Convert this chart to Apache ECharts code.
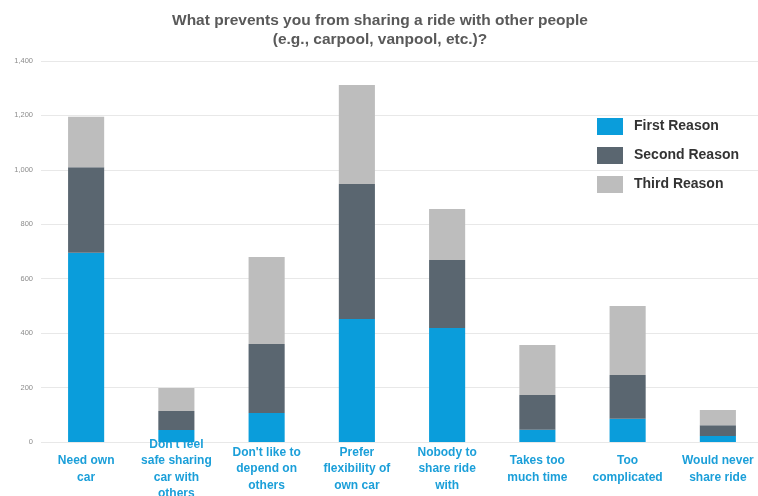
<!DOCTYPE html>
<html>
<head>
<meta charset="utf-8">
<script src="https://cdn.jsdelivr.net/npm/echarts@6/dist/echarts.min.js"></script>
<style>
html,body{margin:0;padding:0;background:#fff;}
#chart{width:758px;height:496px;}
</style>
</head>
<body>
<div id="chart"></div>
<script>
const categories = [
  "Need own\ncar",
  "Don't feel\nsafe sharing\ncar with\nothers",
  "Don't like to\ndepend on\nothers",
  "Prefer\nflexibility of\nown car",
  "Nobody to\nshare ride\nwith",
  "Takes too\nmuch time",
  "Too\ncomplicated",
  "Would never\nshare ride"
];
const seriesNames = ["First Reason", "Second Reason", "Third Reason"];
const firstReason = [695, 44, 107, 452, 419, 45, 85, 22];
const secondReason = [315, 70, 253, 496, 250, 128, 161, 40];
const thirdReason = [185, 84, 320, 364, 187, 183, 254, 56];
const yTicks = [0, 200, 400, 600, 800, 1000, 1200, 1400];

const colors = ["#0a9ddb", "#5a6670", "#bdbdbd"];
const chart = echarts.init(document.getElementById('chart'));
const fmt = v => v.toLocaleString('en-US');
const values = [firstReason, secondReason, thirdReason];

chart.setOption({
  animation: false,
  title: {
    text: "What prevents you from sharing a ride with other people\n(e.g., carpool, vanpool, etc.)?",
    left: 375, top: 6, textAlign: 'center',
    textStyle: { fontFamily: 'Liberation Sans', fontWeight: 'bold', fontSize: 15.5, color: '#595959', lineHeight: 19 }
  },
  legend: {
    orient: 'vertical', left: 592, top: 113,
    itemWidth: 26, itemHeight: 17, itemGap: 12,
    data: seriesNames,
    textStyle: { fontFamily: 'Liberation Sans', fontWeight: 'bold', fontSize: 14, color: '#333', padding: [0, 0, 0, 6] },
    icon: 'rect'
  },
  grid: { left: 41, top: 61, width: 722, height: 381, containLabel: false, outerBoundsMode: 'none' },
  xAxis: {
    type: 'category', data: categories,
    axisLine: { show: false }, axisTick: { show: false },
    axisLabel: {
      interval: 0, margin: 27, verticalAlign: 'middle',
      fontFamily: 'Liberation Sans', fontWeight: 'bold', fontSize: 12, lineHeight: 16.5, color: '#1b9fd9'
    }
  },
  yAxis: {
    type: 'value', min: yTicks[0], max: yTicks[yTicks.length - 1], interval: 200,
    axisLine: { show: false }, axisTick: { show: false },
    splitLine: { lineStyle: { color: '#e8e8e8', width: 1 } },
    axisLabel: { formatter: v => fmt(v), fontFamily: 'Liberation Sans', fontSize: 7.5, color: '#8c8c8c', margin: 8 }
  },
  series: seriesNames.map((name, i) => ({
    name, type: 'bar', stack: 'total', barWidth: '40%',
    data: values[i],
    itemStyle: { color: colors[i] }
  }))
});
</script>
</body>
</html>
